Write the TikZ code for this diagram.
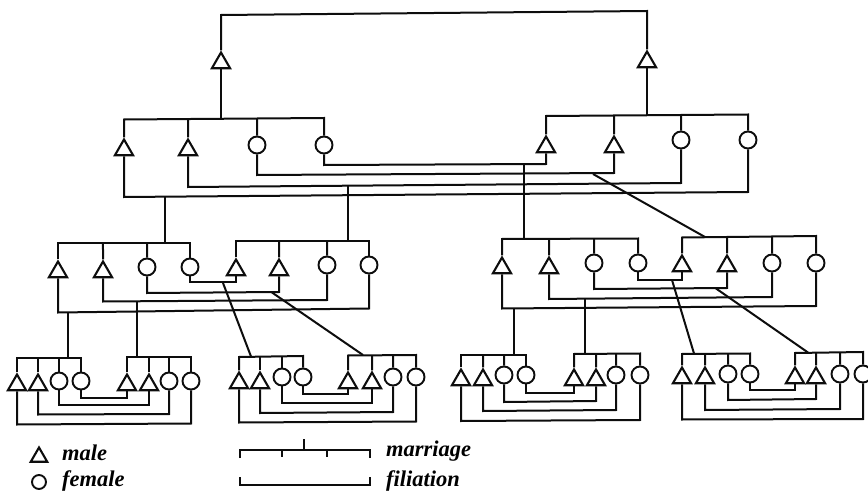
\documentclass[tikz,border=0pt]{standalone}
\usepackage{fontspec}
\setmainfont{Liberation Serif}
\usetikzlibrary{shapes.geometric,calc}
\tikzset{
  x=1pt,y=-1pt,
  line/.style={draw=black!95,line width=2pt,line join=miter},
  male/.style={regular polygon,regular polygon sides=3,draw=black!95,fill=white,line width=2.1pt,minimum size=21pt,inner sep=0pt},
  female/.style={circle,draw=black!95,fill=white,line width=1.9pt,minimum size=17pt,inner sep=0pt},
  legendtext/.style={anchor=base west,inner sep=0pt,font=\fontsize{22.5}{22.5}\selectfont\bfseries\itshape},
  legendline/.style={line,line width=1.6pt},
}
% a group of four siblings: two brothers, two sisters, joined by a marriage bar
\newcommand{\sibgroup}[9]{%
  \node[male] (#1a) at (#2,#8) {};
  \node[male] (#1b) at (#3,#8) {};
  \node[female] (#1c) at (#4,#9) {};
  \node[female] (#1d) at (#5,#9) {};
  \coordinate (#1L) at (#2,#6);
  \coordinate (#1R) at (#5,#7);
  \draw[line] (#1a.north) -- (#1L) -- (#1R) -- (#1d.north);
  \draw[line] (#1b.north) -- ($(#1L)!{(#3-#2)/(#5-#2)}!(#1R)$);
  \draw[line] (#1c.north) -- ($(#1L)!{(#4-#2)/(#5-#2)}!(#1R)$);
}
% a filiation line between two named nodes
\newcommand{\filline}[4]{%
  \draw[line] (#1.south) -- (#1.south |- 0,#3) -- (#2.south |- 0,#4) -- (#2.south);
}
\begin{document}
\begin{tikzpicture}
\useasboundingbox (0,0) rectangle (868,492);
% top pair
\node[male] (topL) at (221,63) {};
\node[male] (topR) at (647,62) {};
\coordinate (topbarL) at (221,15);
\coordinate (topbarR) at (647,11);
\coordinate (topdownL) at (221,118.5);
\coordinate (topdownR) at (647,115);
\draw[line] (topL.north) -- (topbarL) -- (topbarR) -- (topR.north);
\draw[line] (topL.south) -- (topdownL);
\draw[line] (topR.south) -- (topdownR);
% generation 2
\sibgroup{P}{124}{188}{257}{324}{119.5}{118}{150}{145}
\sibgroup{Q}{546}{614}{681}{748}{116}{114.5}{147}{140}
\filline{Pd}{Qa}{165}{164}
\filline{Pc}{Qb}{175}{173}
\filline{Pb}{Qc}{187}{183}
\filline{Pa}{Qd}{197}{192}
% generation 3
\sibgroup{A}{58}{103}{147}{190}{243}{243}{272}{267}
\sibgroup{B}{236}{279}{327}{369}{241}{241}{270}{265}
\filline{Ad}{Ba}{282}{282}
\filline{Ac}{Bb}{293}{292}
\filline{Ab}{Bc}{301.5}{300}
\filline{Aa}{Bd}{312.5}{308.5}
\sibgroup{C}{502}{549}{594}{638}{239}{238.5}{268}{263}
\sibgroup{D}{682}{727}{772}{816}{237.5}{236}{266}{263}
\filline{Cd}{Da}{280}{280}
\filline{Cc}{Db}{289}{288}
\filline{Cb}{Dc}{299}{297}
\filline{Ca}{Dd}{308.5}{306}
% generation 4
\sibgroup{E}{17}{38}{59}{81}{358}{358}{385}{381}
\sibgroup{F}{127}{149}{169}{191}{357}{357}{385}{381}
\filline{Ed}{Fa}{398}{398}
\filline{Ec}{Fb}{405}{405}
\filline{Eb}{Fc}{414.5}{414}
\filline{Ea}{Fd}{424.5}{423.5}
\sibgroup{G}{239}{260}{282}{303}{357}{356}{383}{377}
\sibgroup{H}{348}{372}{393}{416}{355.5}{355}{383}{377}
\filline{Gd}{Ha}{394}{394}
\filline{Gc}{Hb}{403}{403}
\filline{Gb}{Hc}{413}{412}
\filline{Ga}{Hd}{422.5}{421.5}
\sibgroup{I}{461}{483}{504}{526}{355}{355}{380}{375}
\sibgroup{J}{574}{596}{616}{640}{354}{353.5}{380}{375}
\filline{Id}{Ja}{393}{393}
\filline{Ic}{Jb}{402}{401}
\filline{Ib}{Jc}{411}{410}
\filline{Ia}{Jd}{421}{420}
\sibgroup{K}{682}{705}{728}{750}{354}{353.5}{378}{374}
\sibgroup{M}{795}{816}{840}{863}{353}{352}{378}{374}
\filline{Kd}{Ma}{390}{390}
\filline{Kc}{Mb}{400}{399}
\filline{Kb}{Mc}{410}{409}
\filline{Ka}{Md}{419.5}{419}
% descents: filiation line to marriage bar of the children
\coordinate (s1) at (165,196.5);
\coordinate (t1) at (165,243);
\coordinate (s2) at (348,186);
\coordinate (t2) at (348,241);
\coordinate (s3) at (524,164.5);
\coordinate (t3) at (524,239);
\coordinate (s4) at (593,174);
\coordinate (t4) at (705,237);
\draw[line] (s1) -- (t1);
\draw[line] (s2) -- (t2);
\draw[line] (s3) -- (t3);
\draw[line] (s4) -- (t4);
\coordinate (s5) at (68,312);
\coordinate (t5) at (68,358);
\coordinate (s6) at (137,301);
\coordinate (t6) at (137,357);
\coordinate (s7) at (223,283);
\coordinate (t7) at (251,356.5);
\coordinate (s8) at (272,292.5);
\coordinate (t8) at (363,355);
\draw[line] (s5) -- (t5);
\draw[line] (s6) -- (t6);
\draw[line] (s7) -- (t7);
\draw[line] (s8) -- (t8);
\coordinate (s9) at (514,308);
\coordinate (t9) at (514,355);
\coordinate (s10) at (585,298);
\coordinate (t10) at (585,354);
\coordinate (s11) at (672,280);
\coordinate (t11) at (694,353.5);
\coordinate (s12) at (716,288.5);
\coordinate (t12) at (808,352.5);
\draw[line] (s9) -- (t9);
\draw[line] (s10) -- (t10);
\draw[line] (s11) -- (t11);
\draw[line] (s12) -- (t12);
% legend
\node[male,minimum size=19pt] (legM) at (39,457) {};
\node[female,minimum size=14pt] (legF) at (39,482) {};
\node[legendtext] (txtM) at (62,460) {male};
\node[legendtext] (txtF) at (62,486) {female};
\coordinate (m1) at (240,458);
\coordinate (m2) at (240,450);
\coordinate (m3) at (370,450);
\coordinate (m4) at (370,458);
\coordinate (m5) at (282,450);
\coordinate (m6) at (282,457);
\coordinate (m7) at (327,450);
\coordinate (m8) at (327,457);
\coordinate (m9) at (304,450);
\coordinate (m10) at (304,439);
\draw[legendline] (m1) -- (m2) -- (m3) -- (m4);
\draw[legendline] (m5) -- (m6);
\draw[legendline] (m7) -- (m8);
\draw[legendline] (m9) -- (m10);
\coordinate (f1) at (240,477);
\coordinate (f2) at (240,485);
\coordinate (f3) at (370,485);
\coordinate (f4) at (370,477);
\draw[legendline] (f1) -- (f2) -- (f3) -- (f4);
\node[legendtext] (txtMar) at (386,456) {marriage};
\node[legendtext] (txtFil) at (386,486) {filiation};
\end{tikzpicture}
\end{document}
